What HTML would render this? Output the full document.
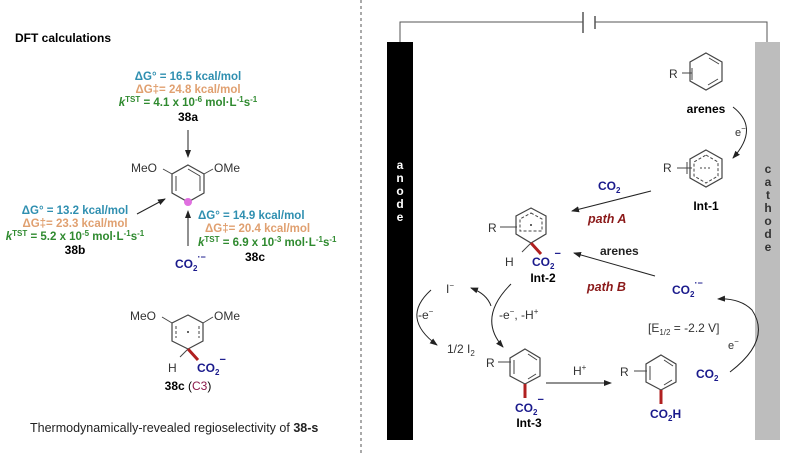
<!DOCTYPE html>
<html><head><meta charset="utf-8"><style>
html,body{margin:0;padding:0;background:#fff;}
svg{display:block;font-family:"Liberation Sans",Arial,sans-serif;}
.b{font-weight:bold}
.cy{fill:#2f8fb0;font-weight:bold;font-size:11.5px}
.or{fill:#e0a070;font-weight:bold;font-size:11.5px}
.gr{fill:#2f8a2f;font-weight:bold;font-size:11.5px}
.nv{fill:#1a1a8c;font-weight:bold}
.rd{fill:#8b1a1a;font-weight:bold;font-style:italic}
</style></head><body>
<svg width="798" height="455" viewBox="0 0 798 455" xmlns="http://www.w3.org/2000/svg">
<defs><marker id="ar" markerWidth="8" markerHeight="8" refX="7" refY="4" orient="auto" markerUnits="userSpaceOnUse"><path d="M0,1 L8,4 L0,7 Z" fill="#222"/></marker></defs>
<rect width="798" height="455" fill="#fff"/>
<!-- LEFT -->
<text x="15" y="42" class="b" font-size="12">DFT calculations</text>
<line x1="361" y1="0" x2="361" y2="455" stroke="#555" stroke-dasharray="3,3"/>
<text x="188" y="80" text-anchor="middle" class="cy">ΔG° = 16.5 kcal/mol</text>
<text x="188" y="93" text-anchor="middle" class="or">ΔG‡= 24.8 kcal/mol</text>
<text x="188" y="106" text-anchor="middle" class="gr"><tspan font-style="italic">k</tspan><tspan font-size="8" dy="-4">TST</tspan><tspan dy="4"> = 4.1 x 10</tspan><tspan font-size="8" dy="-4">-6</tspan><tspan dy="4"> mol·L</tspan><tspan font-size="8" dy="-4">-1</tspan><tspan dy="4">s</tspan><tspan font-size="8" dy="-4">-1</tspan></text>
<text x="188" y="121" text-anchor="middle" class="b" font-size="12">38a</text>
<line x1="188" y1="130" x2="188" y2="157" stroke="#222" marker-end="url(#ar)"/>
<polygon points="188,165 204,174 204,193 188,202 172,193 172,174" fill="none" stroke="#444" stroke-width="1.2"/>
<path d="M176,176 L176,191 M200,176 L200,191 M188,169 L200,176" stroke="#444" fill="none"/>
<line x1="172" y1="174" x2="163" y2="169" stroke="#444"/><line x1="204" y1="174" x2="213" y2="169" stroke="#444"/>
<text x="131" y="172" font-size="12" fill="#333">MeO</text><text x="214" y="172" font-size="12" fill="#333">OMe</text>
<circle cx="188" cy="202" r="4" fill="#e070e0"/>
<line x1="137" y1="214" x2="165" y2="199" stroke="#222" marker-end="url(#ar)"/>
<text x="75" y="214" text-anchor="middle" class="cy">ΔG° = 13.2 kcal/mol</text>
<text x="75" y="227" text-anchor="middle" class="or">ΔG‡= 23.3 kcal/mol</text>
<text x="75" y="240" text-anchor="middle" class="gr"><tspan font-style="italic">k</tspan><tspan font-size="8" dy="-4">TST</tspan><tspan dy="4"> = 5.2 x 10</tspan><tspan font-size="8" dy="-4">-5</tspan><tspan dy="4"> mol·L</tspan><tspan font-size="8" dy="-4">-1</tspan><tspan dy="4">s</tspan><tspan font-size="8" dy="-4">-1</tspan></text>
<text x="75" y="254" text-anchor="middle" class="b" font-size="12">38b</text>
<text x="198" y="219" class="cy">ΔG° = 14.9 kcal/mol</text>
<text x="205" y="232" class="or">ΔG‡= 20.4 kcal/mol</text>
<text x="198" y="246" class="gr"><tspan font-style="italic">k</tspan><tspan font-size="8" dy="-4">TST</tspan><tspan dy="4"> = 6.9 x 10</tspan><tspan font-size="8" dy="-4">-3</tspan><tspan dy="4"> mol·L</tspan><tspan font-size="8" dy="-4">-1</tspan><tspan dy="4">s</tspan><tspan font-size="8" dy="-4">-1</tspan></text>
<text x="255" y="261" text-anchor="middle" class="b" font-size="12">38c</text>
<line x1="188" y1="246" x2="188" y2="211" stroke="#222" marker-end="url(#ar)"/>
<text x="175" y="268" class="nv" font-size="12">CO<tspan font-size="8" dy="3">2</tspan><tspan font-size="9" dy="-11">·−</tspan></text>
<!-- 38c molecule -->
<polygon points="188,315 203,323 203,341 188,349 172,341 172,323" fill="none" stroke="#444" stroke-width="1.2"/>
<path d="M176,326 L176,338 M199,326 L199,338" stroke="#444" stroke-dasharray="3,2"/>
<circle cx="188" cy="332" r="1" fill="#333"/>
<line x1="172" y1="323" x2="162" y2="317" stroke="#444"/><line x1="203" y1="323" x2="213" y2="317" stroke="#444"/>
<text x="130" y="320" font-size="12" fill="#333">MeO</text><text x="214" y="320" font-size="12" fill="#333">OMe</text>
<line x1="188" y1="349" x2="180" y2="357" stroke="#444"/>
<line x1="188" y1="349" x2="198" y2="360" stroke="#b02020" stroke-width="3"/>
<text x="168" y="372" font-size="12" fill="#333">H</text>
<text x="197" y="372" class="nv" font-size="12">CO<tspan font-size="8" dy="3">2</tspan><tspan font-size="11" dy="-12">−</tspan></text>
<text x="188" y="390" text-anchor="middle" font-size="12"><tspan class="b">38c</tspan> (<tspan fill="#8b1a4a">C3</tspan>)</text>
<text x="30" y="432" font-size="12.5" fill="#222">Thermodynamically-revealed regioselectivity of <tspan class="b">38-s</tspan></text>
<!-- RIGHT -->
<polyline points="400,42 400,22 583,22" fill="none" stroke="#555"/>
<polyline points="595,22 767,22 767,42" fill="none" stroke="#555"/>
<line x1="583" y1="12" x2="583" y2="33" stroke="#555" stroke-width="1.5"/>
<line x1="595" y1="16" x2="595" y2="29" stroke="#555" stroke-width="1.5"/>
<rect x="387" y="42" width="26" height="398" fill="#000"/>
<rect x="755" y="42" width="25" height="398" fill="#bdbdbd"/>
<g fill="#fff" class="b" font-size="12" text-anchor="middle"><text x="400" y="169">a</text><text x="400" y="182">n</text><text x="400" y="195">o</text><text x="400" y="208">d</text><text x="400" y="221">e</text></g>
<g fill="#333" class="b" font-size="12" text-anchor="middle"><text x="768" y="173">c</text><text x="768" y="186">a</text><text x="768" y="199">t</text><text x="768" y="212">h</text><text x="768" y="225">o</text><text x="768" y="238">d</text><text x="768" y="251">e</text></g>
<!-- arenes -->
<polygon points="706,53 722,62 722,81 706,90 690,81 690,62" fill="none" stroke="#444" stroke-width="1.2"/>
<path d="M709,58 L719,64 M718,79 L708,85" stroke="#444"/>
<line x1="682" y1="73" x2="692" y2="73" stroke="#444"/><line x1="692" y1="68" x2="692" y2="80" stroke="#444"/>
<text x="669" y="78" font-size="12" fill="#333">R</text>
<text x="706" y="113" text-anchor="middle" class="b" font-size="12">arenes</text>
<path d="M733,107 Q760,128 733,158" fill="none" stroke="#222" marker-end="url(#ar)"/>
<text x="735" y="136" font-size="11" fill="#333">e<tspan font-size="8" dy="-5">−</tspan></text>
<!-- Int-1 -->
<polygon points="706,150 722,159 722,178 706,187 690,178 690,159" fill="none" stroke="#444" stroke-width="1.2"/>
<polygon points="706,155 718,162 718,176 706,183 694,176 694,162" fill="none" stroke="#444" stroke-dasharray="3,2"/>
<line x1="700" y1="168" x2="710" y2="168" stroke="#444" stroke-dasharray="2,2"/>
<line x1="677" y1="168" x2="692" y2="168" stroke="#444"/><line x1="687" y1="162" x2="687" y2="174" stroke="#444"/>
<text x="663" y="172" font-size="12" fill="#333">R</text>
<text x="706" y="210" text-anchor="middle" class="b" font-size="12">Int-1</text>
<text x="598" y="190" class="nv" font-size="12">CO<tspan font-size="8" dy="3">2</tspan></text>
<line x1="651" y1="191" x2="572" y2="211" stroke="#222" marker-end="url(#ar)"/>
<text x="588" y="223" class="rd" font-size="12.5">path A</text>
<!-- Int-2 -->
<polygon points="531,208 546,216 546,234 531,243 516,234 516,216" fill="none" stroke="#444" stroke-width="1.2"/>
<polygon points="531,213 542,219 542,231 520,231 520,219" fill="none" stroke="#444" stroke-dasharray="3,2"/>
<circle cx="531" cy="225" r="1" fill="#333"/>
<line x1="500" y1="227" x2="517" y2="227" stroke="#444"/>
<text x="488" y="232" font-size="12" fill="#333">R</text>
<line x1="531" y1="243" x2="522" y2="252" stroke="#444"/>
<line x1="531" y1="243" x2="541" y2="254" stroke="#b02020" stroke-width="3"/>
<text x="505" y="266" font-size="12" fill="#333">H</text>
<text x="532" y="266" class="nv" font-size="12">CO<tspan font-size="8" dy="3">2</tspan><tspan font-size="11" dy="-12">−</tspan></text>
<text x="543" y="282" text-anchor="middle" class="b" font-size="12">Int-2</text>
<text x="600" y="255" class="b" font-size="12" fill="#222">arenes</text>
<line x1="655" y1="276" x2="574" y2="253" stroke="#222" marker-end="url(#ar)"/>
<text x="587" y="291" class="rd" font-size="12.5">path B</text>
<text x="672" y="294" class="nv" font-size="12">CO<tspan font-size="8" dy="3">2</tspan><tspan font-size="9" dy="-11">·−</tspan></text>
<text x="648" y="332" font-size="12" fill="#333">[E<tspan font-size="8" dy="3">1/2</tspan><tspan dy="-3"> = -2.2 V]</tspan></text>
<text x="728" y="349" font-size="11" fill="#333">e<tspan font-size="8" dy="-5">−</tspan></text>
<text x="696" y="378" class="nv" font-size="12">CO<tspan font-size="8" dy="3">2</tspan></text>
<path d="M730,372 Q772,340 752,310 Q740,298 718,299" fill="none" stroke="#222" marker-end="url(#ar)"/>
<!-- iodide cycle -->
<text x="446" y="293" font-size="12" fill="#333">I<tspan font-size="8" dy="-5">−</tspan></text>
<text x="418" y="319" font-size="12" fill="#333">-e<tspan font-size="8" dy="-5">−</tspan></text>
<text x="447" y="353" font-size="12" fill="#333">1/2 I<tspan font-size="8" dy="3">2</tspan></text>
<path d="M431,290 Q400,318 437,345" fill="none" stroke="#222" marker-end="url(#ar)"/>
<path d="M511,284 Q477,318 503,347" fill="none" stroke="#222" marker-end="url(#ar)"/>
<path d="M491,306 Q487,294 471,288" fill="none" stroke="#222" marker-end="url(#ar)"/>
<text x="499" y="319" font-size="12" fill="#333">-e<tspan font-size="8" dy="-5">−</tspan><tspan dy="5">, -H</tspan><tspan font-size="8" dy="-5">+</tspan></text>
<!-- Int-3 -->
<polygon points="525,349 540,358 540,376 525,384 510,376 510,358" fill="none" stroke="#444" stroke-width="1.2"/>
<path d="M528,354 L537,360 M514,360 L514,374 M536,374 L528,379" stroke="#444"/>
<line x1="498" y1="362" x2="511" y2="362" stroke="#444"/>
<text x="486" y="367" font-size="12" fill="#333">R</text>
<line x1="525" y1="384" x2="525" y2="398" stroke="#b02020" stroke-width="3"/>
<text x="515" y="412" class="nv" font-size="12">CO<tspan font-size="8" dy="3">2</tspan><tspan font-size="11" dy="-12">−</tspan></text>
<text x="529" y="427" text-anchor="middle" class="b" font-size="12">Int-3</text>
<line x1="546" y1="383" x2="611" y2="383" stroke="#222" marker-end="url(#ar)"/>
<text x="573" y="375" font-size="12" fill="#333">H<tspan font-size="8" dy="-5">+</tspan></text>
<!-- product -->
<polygon points="661,355 676,364 676,382 661,390 646,382 646,364" fill="none" stroke="#444" stroke-width="1.2"/>
<path d="M664,360 L673,366 M650,366 L650,380 M672,380 L664,385" stroke="#444"/>
<line x1="634" y1="371" x2="647" y2="371" stroke="#444"/>
<text x="620" y="376" font-size="12" fill="#333">R</text>
<line x1="661" y1="390" x2="661" y2="404" stroke="#b02020" stroke-width="3"/>
<text x="650" y="418" class="nv" font-size="12">CO<tspan font-size="8" dy="3">2</tspan><tspan dy="-3">H</tspan></text>
</svg>
</body></html>
